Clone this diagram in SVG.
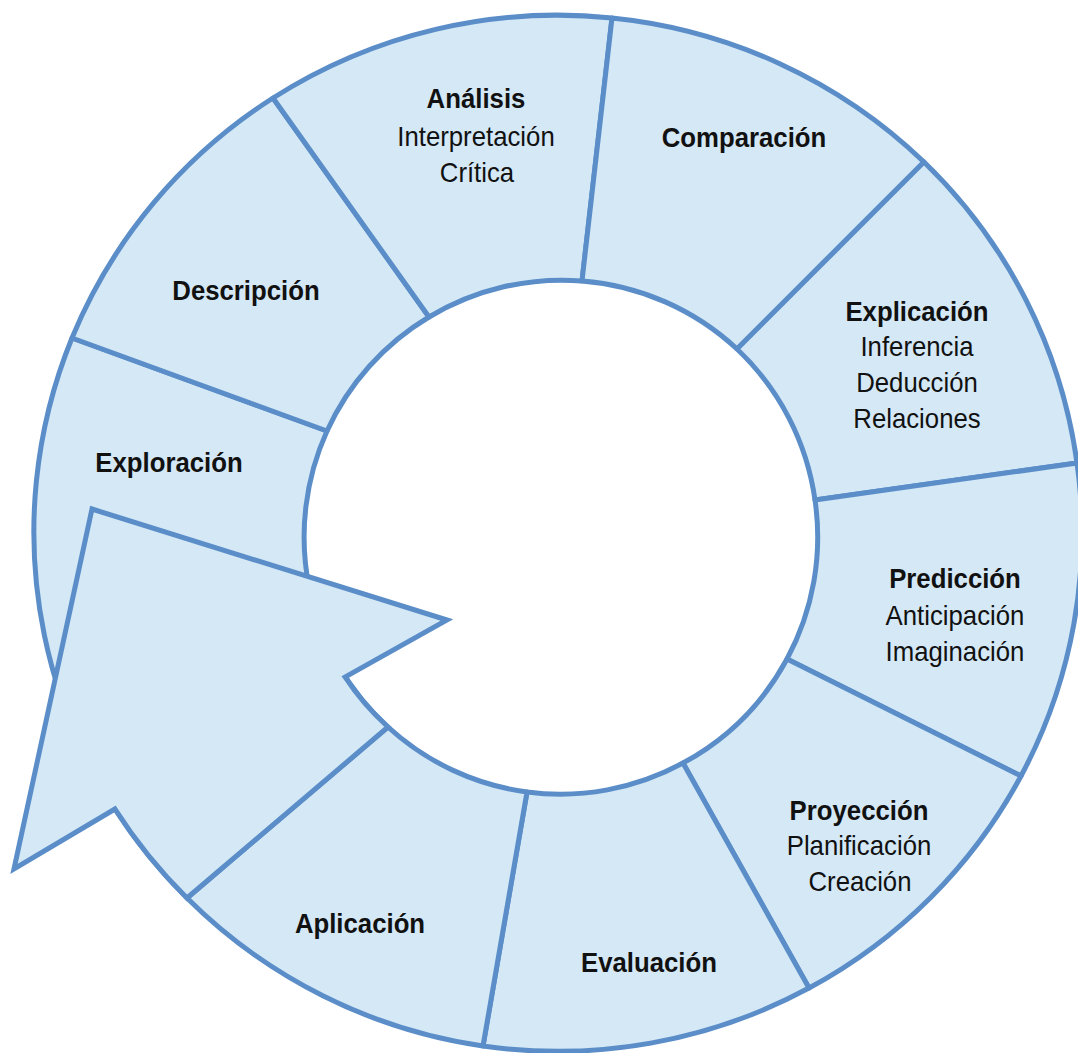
<svg xmlns="http://www.w3.org/2000/svg" width="1078" height="1053" viewBox="0 0 1078 1053">
<style>
.seg{fill:#d4e8f6;stroke:#5b8ec8;stroke-width:5;stroke-linejoin:round}
.arr{fill:#d4e8f6;stroke:#5b8ec8;stroke-width:5;stroke-linejoin:miter}
text{font-family:"Liberation Sans",Arial,sans-serif;font-size:28px;fill:#111;text-anchor:middle}
.b{font-weight:bold}
</style>
<rect width="1078" height="1053" fill="#ffffff"/>
<g id="exploracion">
<path class="seg" d="M187,898 A524,518 0 0,1 72,338 L327,431 A257,257 0 0,0 388,727 Z"/>
<text class="b" x="169" y="472" transform="matrix(0.92 0 0 1 13.52 0)">Exploración</text>
</g>
<g id="descripcion">
<path class="seg" d="M72,338 A524,518 0 0,1 273,98 L429,317 A257,257 0 0,0 327,431 Z"/>
<text class="b" x="246" y="300" transform="matrix(0.92 0 0 1 19.68 0)">Descripción</text>
</g>
<g id="analisis">
<path class="seg" d="M273,98 A524,518 0 0,1 612,18 L582,281 A257,257 0 0,0 429,317 Z"/>
<text class="b" x="476" y="108" transform="matrix(0.92 0 0 1 38.08 0)">Análisis</text>
<text x="476" y="146" transform="matrix(0.92 0 0 1 38.08 0)">Interpretación</text>
<text x="477" y="182" transform="matrix(0.92 0 0 1 38.16 0)">Crítica</text>
</g>
<g id="comparacion">
<path class="seg" d="M612,18 A524,518 0 0,1 924,162 L737,349 A257,257 0 0,0 582,281 Z"/>
<text class="b" x="744" y="147" transform="matrix(0.92 0 0 1 59.52 0)">Comparación</text>
</g>
<g id="explicacion">
<path class="seg" d="M924,162 A524,518 0 0,1 1077,463 L815,500 A257,257 0 0,0 737,349 Z"/>
<text class="b" x="917" y="321" transform="matrix(0.92 0 0 1 73.36 0)">Explicación</text>
<text x="917" y="356" transform="matrix(0.92 0 0 1 73.36 0)">Inferencia</text>
<text x="917" y="392" transform="matrix(0.92 0 0 1 73.36 0)">Deducción</text>
<text x="917" y="428" transform="matrix(0.92 0 0 1 73.36 0)">Relaciones</text>
</g>
<g id="prediccion">
<path class="seg" d="M1077,463 A524,518 0 0,1 1021,776 L787,659 A257,257 0 0,0 815,500 Z"/>
<text class="b" x="955" y="588" transform="matrix(0.92 0 0 1 76.4 0)">Predicción</text>
<text x="955" y="625" transform="matrix(0.92 0 0 1 76.4 0)">Anticipación</text>
<text x="955" y="661" transform="matrix(0.92 0 0 1 76.4 0)">Imaginación</text>
</g>
<g id="proyeccion">
<path class="seg" d="M1021,776 A524,518 0 0,1 809,988 L683,763 A257,257 0 0,0 787,659 Z"/>
<text class="b" x="859" y="820" transform="matrix(0.92 0 0 1 68.72 0)">Proyección</text>
<text x="859" y="855" transform="matrix(0.92 0 0 1 68.72 0)">Planificación</text>
<text x="860" y="891" transform="matrix(0.92 0 0 1 68.8 0)">Creación</text>
</g>
<g id="evaluacion">
<path class="seg" d="M809,988 A524,518 0 0,1 483,1046 L527,792 A257,257 0 0,0 683,763 Z"/>
<text class="b" x="649" y="972" transform="matrix(0.92 0 0 1 51.92 0)">Evaluación</text>
</g>
<g id="aplicacion">
<path class="seg" d="M483,1046 A524,518 0 0,1 187,898 L388,727 A257,257 0 0,0 527,792 Z"/>
<text class="b" x="360" y="933" transform="matrix(0.92 0 0 1 28.8 0)">Aplicación</text>
</g>
<g id="connectors">
<path id="arrow" class="arr" d="M92,509 L447,620 L345,677 A257,257 0 0,0 388,727 L187,898 A524,518 0 0,1 115,809 L14,869 Z"/>
</g>
</svg>
